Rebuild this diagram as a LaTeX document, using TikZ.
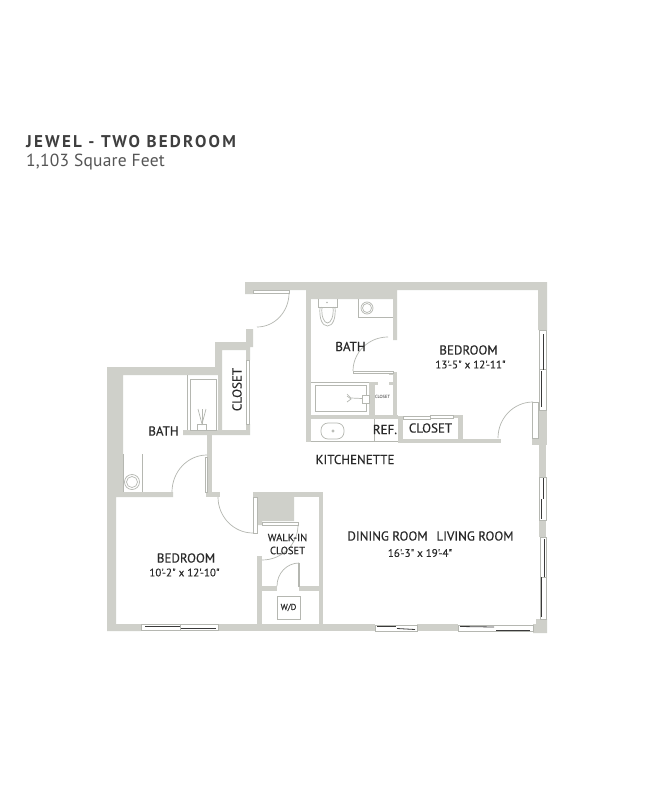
\documentclass[tikz,border=0pt]{standalone}
\usepackage{fontspec}
\setmainfont{PT Sans}
\newfontfamily\titlefont[LetterSpace=13,BoldFont={PT Sans Bold}]{PT Sans}
\newfontfamily\subfont[LetterSpace=1.2]{PT Sans}
\newfontfamily\labfont[FakeBold=0.35]{PT Sans}
\usetikzlibrary{calc}
\definecolor{wallc}{HTML}{CFD0CA}
\definecolor{linec}{HTML}{B5B7B1}
\definecolor{inkc}{HTML}{2A2A2A}
\definecolor{winc}{HTML}{3A3A3A}
\tikzset{
  wall/.style={fill=wallc,draw=none},
  fine/.style={draw=linec,line width=.7pt},
  swing/.style={draw=linec,line width=.7pt},
  leaf/.style={draw=linec,line width=.6pt,fill=white},
  label/.style={text=inkc,font=\labfont\fontsize{13}{14}\selectfont,inner sep=0pt,align=center},
  dims/.style={text=inkc,font=\labfont\fontsize{11}{13}\selectfont,inner sep=0pt},
  winframe/.style={draw=linec,line width=.6pt,fill=white},
  winline/.style={draw=winc,line width=.8pt}
}
\newcommand{\qarc}[3]{\draw[swing] (#1) .. controls ($(#1)!.552!(#2)$) and ($(#3)!.552!(#2)$) .. (#3);}
\begin{document}
\begin{tikzpicture}[x=1pt,y=-1pt]
\useasboundingbox[fill=white] (0,0) rectangle (657,791);
% title
\node[anchor=base west,inner sep=0pt,text=inkc!90,font=\titlefont\fontsize{17}{20}\selectfont\bfseries] (title) at (26,147.5) {JEWEL - TWO BEDROOM};
\node[anchor=base west,inner sep=0pt,text=inkc!80,font=\subfont\fontsize{17.5}{20}\selectfont] (subtitle) at (26,166.5) {1,103 Square Feet};
% ---------- walls
% top and NE
\fill[wall] (245,282) -- (547,282) -- (547,330) -- (538,330) -- (538,290) -- (397,290) -- (397,340) -- (393,340) -- (393,299) -- (311,299) -- (306,299) -- (306,290) -- (253,290) -- (253,294) -- (245,294) -- cycle;
% right wall
\fill[wall] (538,410) rectangle (547,445);
\fill[wall] (532,438) rectangle (540,445);
\fill[wall] (539,445) rectangle (546,477);
\fill[wall] (539,520) rectangle (546,537);
\fill[wall] (536,619) -- (547,619) -- (547,633) -- (533,633) -- (533,624) -- (536,624) -- cycle;
% bath left wall
\fill[wall] (306,290) rectangle (311,442);
\fill[wall] (311,415) rectangle (398,419);
\fill[wall] (393,372) rectangle (397,419);
\fill[wall] (389,372) rectangle (393,374.5);
\fill[wall] (369,382) rectangle (375,415);
\fill[wall] (375,382) rectangle (378,385);
\fill[wall] (389,382) rectangle (393,385);
\fill[wall] (398,416) rectangle (403,443);
\fill[wall] (398,439) rectangle (501,443);
\fill[wall] (458,415) rectangle (463,440);
\fill[wall] (453,415) rectangle (458,418);
% closet / west bath
\fill[wall] (107,367) -- (215,367) -- (215,342) -- (246,342) -- (246,329) -- (253,329) -- (253,347) -- (250,347) -- (250,360) -- (246,360) -- (246,350) -- (222,350) -- (222,430) -- (246,430) -- (246,424) -- (250,424) -- (250,435) -- (183,435) -- (183,430) -- (218,430) -- (218,375) -- (123,375) -- (123,492) -- (173,492) -- (173,497) -- (116,497) -- (116,624) -- (141,624) -- (141,631) -- (107,631) -- cycle;
\fill[wall] (207,435) rectangle (212,492);
\fill[wall] (206,492) rectangle (220,497);
% bottom wall
\fill[wall] (218,624) rectangle (257,631);
\fill[wall] (257,624) rectangle (375,631);
\fill[wall] (417,624) rectangle (458,631);
% walk-in
\fill[wall] (253,492) rectangle (323,497);
\fill[wall] (319,492) rectangle (323,625);
\fill[wall] (257,497) -- (294,497) -- (294,521) -- (262,521) -- (262,525) -- (257,525) -- cycle;
\fill[wall] (257,556) rectangle (262,625);
\fill[wall] (262,586) rectangle (277,591);
\fill[wall] (299,586) rectangle (319,591);
% ---------- windows
\filldraw[winframe] (539,330) rectangle (546,410);
\draw[winframe] (539,369) -- (546,369);
\draw[winline] (543,334) -- (543,370);
\draw[winline] (541,371) -- (541,407);
\filldraw[winframe] (539,477) rectangle (546,520);
\draw[winline] (543,478) -- (543,499);
\draw[winline] (541,499) -- (541,519);
\filldraw[winframe] (540,537) rectangle (546,619);
\draw[winframe] (540,577) -- (546,577);
\draw[winline] (544,539) -- (544,577);
\draw[winline] (541,577) -- (541,617);
\filldraw[winframe] (141,624.5) rectangle (218,630.5);
\draw[winframe] (180,624.5) -- (180,630.5);
\draw[winline] (145,626.5) -- (180,626.5);
\draw[winline] (181,628.5) -- (216,628.5);
\filldraw[winframe] (375,625) rectangle (417,631);
\draw[winline] (377,626.5) -- (396,626.5);
\draw[winline] (397,628.5) -- (415,629.5);
\filldraw[winframe] (458,625) rectangle (533,631);
\draw[winline] (460,626.5) -- (494,627);
\draw[winline] (496,630) -- (530,630);
% ---------- door leaves and swings
\filldraw[leaf] (253,290) rectangle (289,293);
\qarc{289,293}{289,327}{257,327}
\filldraw[leaf] (353,371) rectangle (393,373);
\qarc{388,337}{353,337}{353,371}
\filldraw[leaf] (532,402) rectangle (538,438);
\qarc{533,402}{498,402}{498,438}
\filldraw[leaf] (205,457) rectangle (207,492);
\qarc{207,455}{172,455}{172,492}
\filldraw[leaf] (253,497) rectangle (257,533);
\qarc{218,497}{218,533}{253,533}
\filldraw[leaf] (262,522) rectangle (298,525);
\qarc{298,525}{298,560}{262,560}
\filldraw[leaf] (298,563) rectangle (299,586);
\qarc{299,563}{277,563}{277,586}
% closet sliding lines
\filldraw[leaf] (246,360) rectangle (249,424);
\filldraw[leaf] (403,416) rectangle (430,419);
\filldraw[leaf] (430,415) rectangle (453,418);
% ---------- fixtures
% NE bath toilet + sink
\draw[fine] (318,299) -- (318,307) -- (337,307) -- (337,299);
\draw[fine] (320,307) .. controls (319,318) and (322,326) .. (327.5,326) .. controls (333,326) and (336,318) .. (335,307);
\draw[fine] (322,307) .. controls (321,316) and (324,323) .. (327.5,323) .. controls (331,323) and (334,316) .. (333,307);
\fill[linec] (327,302.5) circle (.8);
\draw[fine] (358,299) -- (358,317) -- (393,317);
\draw[fine] (367,308) circle (6);
\draw[fine] (367,308) circle (4.5);
% NE tub
\draw[fine] (311,382) -- (369,382);
\draw[fine] (315,385) rectangle (366,411);
\draw[fine,fill=white] (362,395) rectangle (369,403);
\draw[fine] (347,396) -- (351,399) -- (347,402);
\draw[fine] (347,394) -- (351,398) -- (362,398.5);
\node[inner sep=0pt,text=inkc,font=\fontsize{4.5}{5}\selectfont] (closetb) at (382.5,396.5) {CLOSET};
% counter
\draw[fine] (311,441) -- (398,441);
\draw[fine] (374,419) -- (374,441);
\draw[fine,rounded corners=7pt] (321,423) rectangle (344,439);
\draw[fine] (333,431) circle (1.2);
% west bath tub + sink
\draw[fine] (187,375) -- (187,430);
\draw[fine] (190,379) rectangle (216,430);
\draw[fine,fill=white] (197,424) rectangle (206,430);
\draw[fine] (198,409) -- (202,424) -- (206,409);
\draw[fine] (202,409) -- (202,424);
\draw[fine] (123,454) -- (123,492);
\draw[fine] (142,454) -- (142,492);
\draw[fine] (132,482) circle (7.5);
\draw[fine] (132,482) circle (5.5);
% W/D
\draw[fine] (277,596) rectangle (300,619);
% ---------- labels
\node[label] (ne) at (468.5,350) {BEDROOM};
\node[dims] (nedim) at (470.5,364.5) {13'-5" x 12'-11"};
\node[label] (bathe) at (350.5,346.5) {BATH};
\node[label] (ref) at (385,429.5) {REF.};
\node[label] (cl) at (430.5,428) {CLOSET};
\node[label] (kit) at (355,459.5) {KITCHENETTE};
\node[label,rotate=90] (clv) at (237,389.5) {CLOSET};
\node[label] (bathw) at (163.5,431) {BATH};
\node[label] (bw) at (186,558) {BEDROOM};
\node[dims] (bwdim) at (184.5,572.5) {10'-2" x 12'-10"};
\node[inner sep=0pt,text=inkc,font=\labfont\fontsize{10.5}{13}\selectfont,align=center] (walkin) at (287.5,544) {WALK-IN\\CLOSET};
\node[inner sep=0pt,text=inkc,font=\labfont\fontsize{8.5}{10}\selectfont] (wd) at (288.5,607.5) {W/D};
\node[label] (din) at (387.5,536) {DINING ROOM};
\node[label] (liv) at (475,536) {LIVING ROOM};
\node[dims] (ldim) at (420,553) {16'-3" x 19'-4"};
\end{tikzpicture}
\end{document}
